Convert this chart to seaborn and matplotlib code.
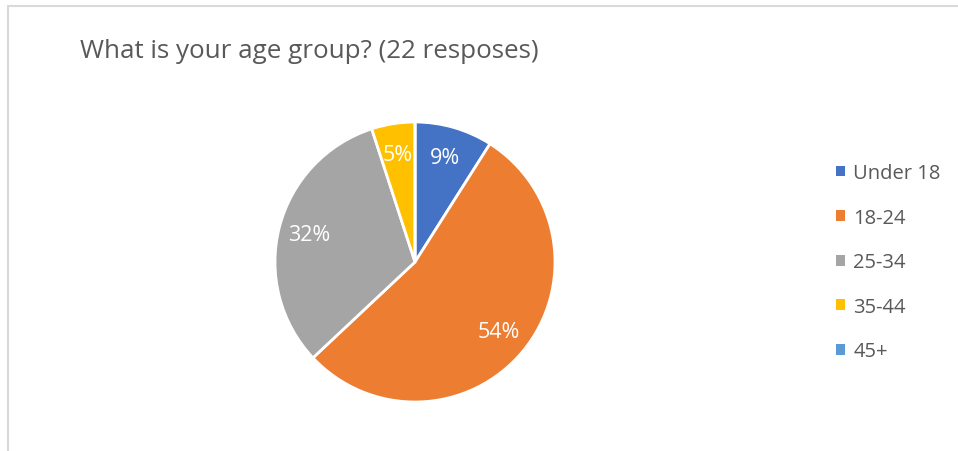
import matplotlib
matplotlib.use("Agg")
import matplotlib.pyplot as plt
from matplotlib.patches import Patch
from matplotlib.lines import Line2D
import seaborn as sns

# Survey data
categories = ["Under 18", "18-24", "25-34", "35-44", "45+"]
shares = [9, 54, 32, 5, 0]
colors = ["#4472C4", "#ED7D31", "#A5A5A5", "#FFC000", "#5B9BD5"]
title = "What is your age group? (22 resposes)"

sns.set_theme(style="white")
plt.rcParams["font.family"] = ["Open Sans", "DejaVu Sans"]
text_color = "#595959"

W, H = 958, 452
fig = plt.figure(figsize=(W / 100, H / 100), dpi=100)
fig.patch.set_facecolor("white")

# pie axes: centre (415, 263) px, radius 140 px
cx, cy, r = 415, 263, 140
ax = fig.add_axes([(cx - r) / W, (H - cy - r) / H, 2 * r / W, 2 * r / H])
ax.pie(
    shares,
    colors=colors,
    startangle=90,
    counterclock=False,
    autopct=lambda p: f"{p:.0f}%" if p > 0 else "",
    pctdistance=0.78,
    wedgeprops=dict(edgecolor="white", linewidth=2.0),
    textprops=dict(color="white", fontsize=15.5),
)
ax.set_xlim(-1, 1)
ax.set_ylim(-1, 1)
ax.set_aspect("equal")
ax.axis("off")

fig.text(80 / W, 1 - 51 / H, title, fontsize=18.7, color=text_color,
         ha="left", va="center")

handles = [Patch(facecolor=c, edgecolor="none") for c in colors]
fig.legend(
    handles, categories,
    loc="upper left",
    bbox_to_anchor=(818 / W, 1 - 146 / H),
    frameon=False,
    fontsize=14.5,
    labelcolor=text_color,
    handlelength=0.45,
    handleheight=0.45,
    handletextpad=0.4,
    labelspacing=1.22,
)

# chart border (top and left edges)
border = "#D9D9D9"
fig.add_artist(Line2D([7.5 / W, 1], [1 - 6.5 / H, 1 - 6.5 / H],
                      transform=fig.transFigure, color=border, linewidth=1.5))
fig.add_artist(Line2D([7.5 / W, 7.5 / W], [0, 1 - 6.5 / H],
                      transform=fig.transFigure, color=border, linewidth=1.5))

fig.savefig("out.png", dpi=100, facecolor="white")
